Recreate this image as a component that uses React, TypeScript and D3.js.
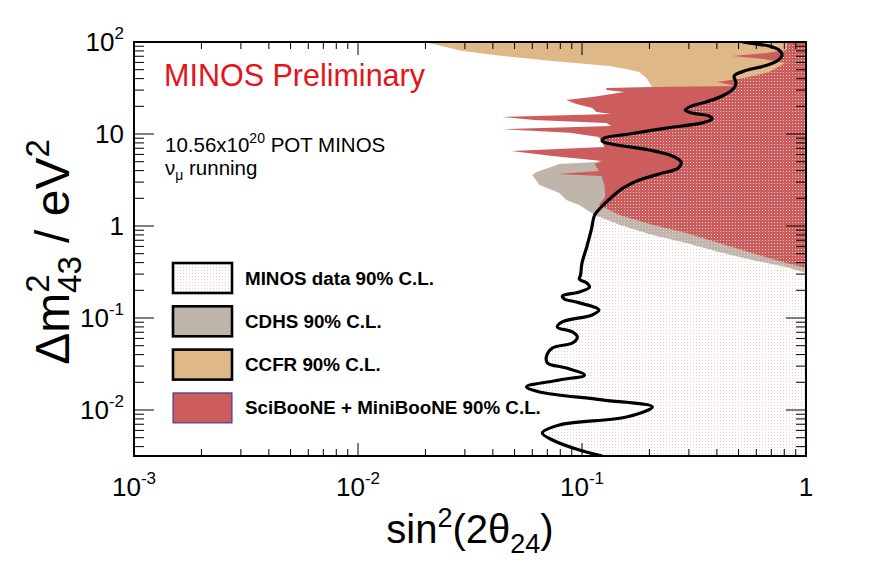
import { useEffect, useRef } from "react";
import * as d3 from "d3";

// sin^2(2 theta_24) / dm^2_43
const minosSin = [0.52, 0.598, 0.684, 0.758, 0.782, 0.743, 0.65, 0.53, 0.478, 0.487, 0.473, 0.423, 0.358, 0.308, 0.289, 0.31, 0.37, 0.381, 0.344, 0.238, 0.163, 0.126, 0.123, 0.135, 0.2, 0.253, 0.277, 0.269, 0.221, 0.18, 0.153, 0.136, 0.122, 0.114, 0.11, 0.105, 0.1, 0.0985, 0.0973, 0.105, 0.108, 0.0973, 0.0817, 0.0833, 0.0944, 0.119, 0.111, 0.0817, 0.0776, 0.0906, 0.0953, 0.0906, 0.0738, 0.0693, 0.0702, 0.0851, 0.1026, 0.0793, 0.0565, 0.0646, 0.123, 0.206, 0.158, 0.0793, 0.0665, 0.0738, 0.0973, 0.123];
const minosDm = [100, 95.1, 90.5, 81.8, 72.3, 62.1, 54.8, 48.4, 42.7, 35.8, 30.8, 25.9, 22.3, 20.1, 18.2, 16.9, 15.7, 14.6, 13.2, 11.6, 10, 9.05, 8.4, 7.79, 6.7, 5.77, 4.96, 4.27, 3.67, 3.16, 2.59, 2.07, 1.61, 1.32, 0.905, 0.592, 0.396, 0.293, 0.265, 0.24, 0.217, 0.192, 0.173, 0.161, 0.149, 0.122, 0.108, 0.0906, 0.0798, 0.0705, 0.0621, 0.0535, 0.0472, 0.0377, 0.0324, 0.0286, 0.024, 0.0212, 0.0178, 0.0157, 0.0129, 0.0108, 0.0084, 0.00687, 0.00562, 0.00472, 0.00367, 0.00316];

const cdhsSin = [1, 0.815, 0.574, 0.409, 0.292, 0.206, 0.147, 0.114, 0.0973, 0.0851, 0.0793, 0.0646, 0.0614, 0.0601, 0.0627, 0.0793, 0.116, 0.18, 1];
const cdhsDm = [0.308, 0.358, 0.427, 0.521, 0.653, 0.798, 1.03, 1.32, 1.69, 1.92, 2.28, 2.79, 3.32, 3.58, 3.86, 4.72, 4.96, 6.7, 6.7];

const ccfrSin = [0.0198, 0.0293, 0.0442, 0.0738, 0.132, 0.158, 0.18, 0.194, 0.204, 0.21, 1, 1];
const ccfrDm = [100, 79.8, 70.4, 62.1, 54.8, 50.9, 47.2, 40.6, 33.3, 30.1, 30.1, 100];

const sbmbSin = [1, 0.824, 0.815, 0.67, 0.468, 0.65, 0.807, 0.684, 0.53, 0.401, 0.487, 0.206, 0.1285, 0.1285, 0.1545, 0.111, 0.0851, 0.0944, 0.111, 0.116, 0.135, 0.0438, 0.0614, 0.1285, 0.135, 0.0442, 0.0879, 0.119, 0.122, 0.126, 0.0484, 0.0738, 0.123, 0.114, 0.119, 0.0776, 0.122, 0.126, 0.127, 0.119, 0.147, 0.206, 0.292, 0.409, 0.574, 0.815, 1];
const sbmbDm = [100, 100, 81.8, 75.9, 70.4, 65.3, 59.1, 47.2, 40.6, 36.7, 33.3, 32.4, 31.6, 30.1, 28.6, 25.3, 23.4, 21.2, 19.2, 17.3, 16.5, 15.3, 14.2, 13.2, 12.2, 11.3, 10.3, 9.27, 8.4, 7.23, 6.53, 5.77, 5.08, 4.72, 3.96, 3.67, 3.49, 2.79, 2.07, 1.69, 1.32, 1.03, 0.839, 0.653, 0.509, 0.396, 0.349];

const xMajor = [1e-3, 1e-2, 1e-1, 1];
const xTickBase = ["10", "10", "10", "1"];
const xTickExp = ["-3", "-2", "-1", ""];
const yMajor = [1e-2, 1e-1, 1, 10, 100];
const yTickBase = ["10", "10", "1", "10", "10"];
const yTickExp = ["-2", "-1", "", "", "2"];

const legendLabels = ["MINOS data 90% C.L.", "CDHS 90% C.L.", "CCFR 90% C.L.", "SciBooNE + MiniBooNE 90% C.L."];
const legendFills = ["url(#minosDots)", "#bfb5aa", "#deb887", "#cd5c5c"];
const legendStrokes = ["#000", "#000", "#000", "#2c2ca0"];

const FONT = "'Liberation Sans', Arial, Helvetica, sans-serif";
const W = 896;
const H = 572;
const X0 = 134, X1 = 806, Y0 = 42, Y1 = 456;

export default function App() {
  const svgRef = useRef<SVGSVGElement | null>(null);

  useEffect(() => {
    if (!svgRef.current) return;
    const svg = d3.select(svgRef.current);
    svg.selectAll("*").remove();

    const x = d3.scaleLog().domain([1e-3, 1]).range([X0, X1]);
    const y = d3.scaleLog().domain([Math.pow(10, -2.5), 100]).range([Y1, Y0]);

    const defs = svg.append("defs");
    defs.append("clipPath").attr("id", "plotClip")
      .append("rect").attr("x", X0).attr("y", Y0).attr("width", X1 - X0).attr("height", Y1 - Y0);
    const pat = defs.append("pattern").attr("id", "minosDots")
      .attr("width", 3).attr("height", 3).attr("patternUnits", "userSpaceOnUse");
    pat.append("rect").attr("width", 1.4).attr("height", 1.4).attr("fill", "#e6cfcf")
      .attr("shape-rendering", "crispEdges");

    svg.append("rect").attr("width", W).attr("height", H).attr("fill", "#fff");

    const poly = d3.line<[number, number]>()
      .x((d) => x(d[0]))
      .y((d) => y(d[1]))
      .curve(d3.curveLinearClosed);

    const plot = svg.append("g").attr("clip-path", "url(#plotClip)");

    plot.append("path").attr("d", poly(d3.zip(cdhsSin, cdhsDm) as [number, number][]) ?? "").attr("fill", "#bfb5aa");
    plot.append("path").attr("d", poly(d3.zip(ccfrSin, ccfrDm) as [number, number][]) ?? "").attr("fill", "#deb887");
    plot.append("path").attr("d", poly(d3.zip(sbmbSin, sbmbDm) as [number, number][]) ?? "").attr("fill", "#cd5c5c");

    const minosPts = d3.zip(minosSin, minosDm) as [number, number][];
    const curve = d3.line<[number, number]>()
      .x((d) => x(d[0]))
      .y((d) => y(d[1]))
      .curve(d3.curveCatmullRom.alpha(0.5));
    const curveD = curve(minosPts) ?? "";
    plot.append("path")
      .attr("d", `${curveD}L${X1 + 2},${Y1 + 2}L${X1 + 2},${Y0 - 2}Z`)
      .attr("fill", "url(#minosDots)");
    plot.append("path").attr("d", curveD).attr("fill", "none")
      .attr("stroke", "#000").attr("stroke-width", 3.2).attr("stroke-linejoin", "round");

    // frame + ticks
    svg.append("rect").attr("x", X0).attr("y", Y0).attr("width", X1 - X0).attr("height", Y1 - Y0)
      .attr("fill", "none").attr("stroke", "#000").attr("stroke-width", 2);

    const ticks = svg.append("g").attr("stroke", "#000").attr("stroke-width", 1);
    x.ticks().forEach((t) => {
      const major = xMajor.some((m) => Math.abs(m - t) / m < 1e-6);
      const len = major ? 13 : 7;
      const px = x(t);
      ticks.append("line").attr("x1", px).attr("x2", px).attr("y1", Y1).attr("y2", Y1 - len);
      ticks.append("line").attr("x1", px).attr("x2", px).attr("y1", Y0).attr("y2", Y0 + len);
    });
    y.ticks().forEach((t) => {
      if (t < y.domain()[0] || t > 100) return;
      const major = yMajor.some((m) => Math.abs(m - t) / m < 1e-6);
      const len = major ? 20 : 10;
      const py = y(t);
      ticks.append("line").attr("x1", X0).attr("x2", X0 + len).attr("y1", py).attr("y2", py);
      ticks.append("line").attr("x1", X1).attr("x2", X1 - len).attr("y1", py).attr("y2", py);
    });

    const labels = svg.append("g").attr("font-family", FONT).attr("fill", "#000");
    xMajor.forEach((v, i) => {
      const t = labels.append("text").attr("x", x(v)).attr("y", 496)
        .attr("text-anchor", "middle").attr("font-size", 26);
      t.append("tspan").text(xTickBase[i]);
      if (xTickExp[i]) t.append("tspan").attr("font-size", 17).attr("dy", -12).text(xTickExp[i]);
    });
    yMajor.forEach((v, i) => {
      const t = labels.append("text").attr("x", 124).attr("y", y(v) + 9)
        .attr("text-anchor", "end").attr("font-size", 26);
      t.append("tspan").text(yTickBase[i]);
      if (yTickExp[i]) t.append("tspan").attr("font-size", 17).attr("dy", -12).text(yTickExp[i]);
    });

    // axis titles
    const xt = labels.append("text").attr("x", 470).attr("y", 543)
      .attr("text-anchor", "middle").attr("font-size", 40);
    xt.append("tspan").text("sin");
    xt.append("tspan").attr("font-size", 27).attr("dy", -16).text("2");
    xt.append("tspan").attr("dy", 16).text("(2θ");
    xt.append("tspan").attr("font-size", 27).attr("dy", 10).text("24");
    xt.append("tspan").attr("dy", -10).text(")");

    const yt = labels.append("text")
      .attr("transform", "translate(69,252) rotate(-90)")
      .attr("text-anchor", "middle").attr("font-size", 48);
    yt.append("tspan").text("Δm");
    yt.append("tspan").attr("font-size", 33).attr("dy", -20).text("2");
    yt.append("tspan").attr("font-size", 33).attr("dx", -18.5).attr("dy", 32).text("43");
    yt.append("tspan").attr("dy", -12).text(" / eV");
    yt.append("tspan").attr("font-size", 33).attr("dy", -20).text("2");

    // annotations
    svg.append("text").attr("x", 164).attr("y", 86).attr("font-family", FONT)
      .attr("font-size", 30.5).attr("fill", "#e5141b").text("MINOS Preliminary");
    const pot = svg.append("text").attr("x", 165).attr("y", 152).attr("font-family", FONT).attr("font-size", 20.5);
    pot.append("tspan").text("10.56x10");
    pot.append("tspan").attr("font-size", 14).attr("dy", -9).text("20");
    pot.append("tspan").attr("dy", 9).text(" POT MINOS");
    const nu = svg.append("text").attr("x", 165).attr("y", 175).attr("font-family", FONT).attr("font-size", 20.5);
    nu.append("tspan").text("ν");
    nu.append("tspan").attr("font-size", 14).attr("dy", 5).text("μ");
    nu.append("tspan").attr("dy", -5).text(" running");

    // legend
    const leg = svg.append("g");
    legendLabels.forEach((lab, i) => {
      const top = 263 + i * 43.3;
      leg.append("rect").attr("x", 173).attr("y", top).attr("width", 59).attr("height", 30)
        .attr("fill", legendFills[i]).attr("stroke", legendStrokes[i])
        .attr("stroke-width", i === 3 ? 1 : 2.6);
      leg.append("text").attr("x", 245).attr("y", top + 21.5).attr("font-family", FONT)
        .attr("font-size", 18.8).attr("font-weight", "bold").text(lab);
    });
  }, []);

  return (
    <svg
      ref={svgRef}
      width={W}
      height={H}
      style={{ position: "absolute", left: 0, top: 0, display: "block" }}
    />
  );
}
